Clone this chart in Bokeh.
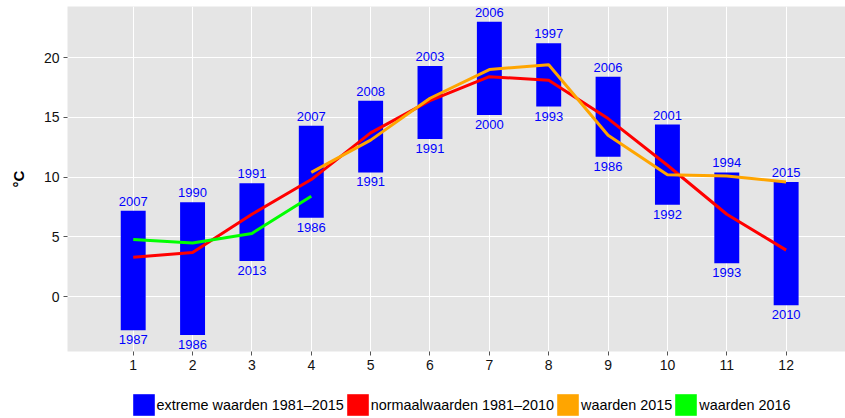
from bokeh.plotting import figure
from bokeh.models import ColumnDataSource, Legend, LegendItem, FixedTicker, Range1d
from bokeh.layouts import column
from bokeh.core.properties import value
from bokeh.embed import file_html
from bokeh.resources import INLINE

# ---- data ----
months = [1, 2, 3, 4, 5, 6, 7, 8, 9, 10, 11, 12]
extreme_max = [7.2, 7.9, 9.5, 14.3, 16.4, 19.3, 23.0, 21.2, 18.4, 14.4, 10.4, 9.6]
extreme_min = [-2.8, -3.2, 3.0, 6.6, 10.4, 13.2, 15.2, 15.9, 11.7, 7.7, 2.8, -0.7]
max_years = ["2007", "1990", "1991", "2007", "2008", "2003", "2006", "1997", "2006", "2001", "1994", "2015"]
min_years = ["1987", "1986", "2013", "1986", "1991", "1991", "2000", "1993", "1986", "1992", "1993", "2010"]
normaal = [3.3, 3.7, 6.9, 9.8, 13.7, 16.4, 18.4, 18.1, 14.9, 11.0, 6.9, 3.9]
months_2015 = [4, 5, 6, 7, 8, 9, 10, 11, 12]
waarden_2015 = [10.4, 13.1, 16.6, 19.0, 19.4, 13.5, 10.2, 10.1, 9.6]
months_2016 = [1, 2, 3, 4]
waarden_2016 = [4.8, 4.5, 5.3, 8.4]
y_ticks = [0, 5, 10, 15, 20]

legend_labels = ["extreme waarden 1981\u20132015", "normaalwaarden 1981\u20132010",
                 "waarden 2015", "waarden 2016"]
BLUE, RED, ORANGE, GREEN = "#0000FF", "#FF0000", "#FFA500", "#00FF00"
FONT = "Liberation Sans"

p = figure(width=845, height=391, output_backend="svg", toolbar_location=None,
           x_range=Range1d(-0.107, 13.0), y_range=Range1d(-4.574, 24.27),
           min_border_left=67, min_border_right=0, min_border_top=6,
           min_border_bottom=40)
p.background_fill_color = "#E5E5E5"
p.border_fill_color = "white"
p.outline_line_color = None

src = ColumnDataSource(dict(x=months, top=extreme_max, bottom=extreme_min,
                            ymax_lab=max_years, ymin_lab=min_years))
p.vbar(x="x", top="top", bottom="bottom", width=0.42, source=src,
       fill_color=BLUE, line_color=None)

p.text(x="x", y="top", text="ymax_lab", source=src, text_align="center",
       text_baseline="bottom", y_offset=-5, text_color=BLUE,
       text_font=value(FONT), text_font_size="13px")
p.text(x="x", y="bottom", text="ymin_lab", source=src, text_align="center",
       text_baseline="top", y_offset=5, text_color=BLUE,
       text_font=value(FONT), text_font_size="13px")

p.line(months, normaal, line_color=RED, line_width=3)
p.line(months_2015, waarden_2015, line_color=ORANGE, line_width=3)
p.line(months_2016, waarden_2016, line_color=GREEN, line_width=3)

# grid
p.xgrid.ticker = FixedTicker(ticks=months)
p.ygrid.ticker = FixedTicker(ticks=y_ticks)
for g in (p.xgrid[0], p.ygrid[0]):
    g.grid_line_color = "white"
    g.grid_line_width = 1

# axes
p.xaxis.ticker = FixedTicker(ticks=months)
p.yaxis.ticker = FixedTicker(ticks=y_ticks)
for ax in (p.xaxis[0], p.yaxis[0]):
    ax.axis_line_color = None
    ax.major_tick_line_color = "#555555"
    ax.major_tick_out = 4
    ax.major_tick_in = 0
    ax.minor_tick_line_color = None
    ax.major_label_text_font = FONT
    ax.major_label_text_font_size = "14px"
    ax.major_label_text_color = "#111111"
p.xaxis.major_label_standoff = 4
p.yaxis.major_label_standoff = 4
p.yaxis.axis_label = "\u00b0C"
p.yaxis.axis_label_text_font = FONT
p.yaxis.axis_label_text_font_style = "bold"
p.yaxis.axis_label_text_font_size = "15px"
p.yaxis.axis_label_text_color = "black"
p.yaxis.axis_label_standoff = 14

# ---- legend strip (filled squares, as in the original) ----
lg = figure(width=845, height=27, output_backend="svg", toolbar_location=None,
            x_range=Range1d(0, 1), y_range=Range1d(0, 1),
            x_axis_type=None, y_axis_type=None,
            min_border_left=67, min_border_right=0, min_border_top=0,
            min_border_bottom=0)
lg.outline_line_color = None
lg.background_fill_color = "white"
lg.border_fill_color = "white"
lg.xgrid.visible = False
lg.ygrid.visible = False
swatches = [lg.vbar(x=[0.5], top=[0], bottom=[0], width=0.01,
                    fill_color=c, line_color=None)
            for c in (BLUE, RED, ORANGE, GREEN)]
legend = Legend(items=[LegendItem(label=lab, renderers=[r])
                       for lab, r in zip(legend_labels, swatches)],
                orientation="horizontal", location=(62.6, 0),
                glyph_width=27, glyph_height=27, label_standoff=0, spacing=0,
                padding=0, margin=0, border_line_color=None,
                background_fill_alpha=0, label_text_font=FONT,
                label_text_font_size="14.4px", label_text_color="black",
                label_height=27)
lg.add_layout(legend, "center")

layout = column(p, lg, spacing=0)
open("out.html", "w").write(file_html(layout, INLINE))
